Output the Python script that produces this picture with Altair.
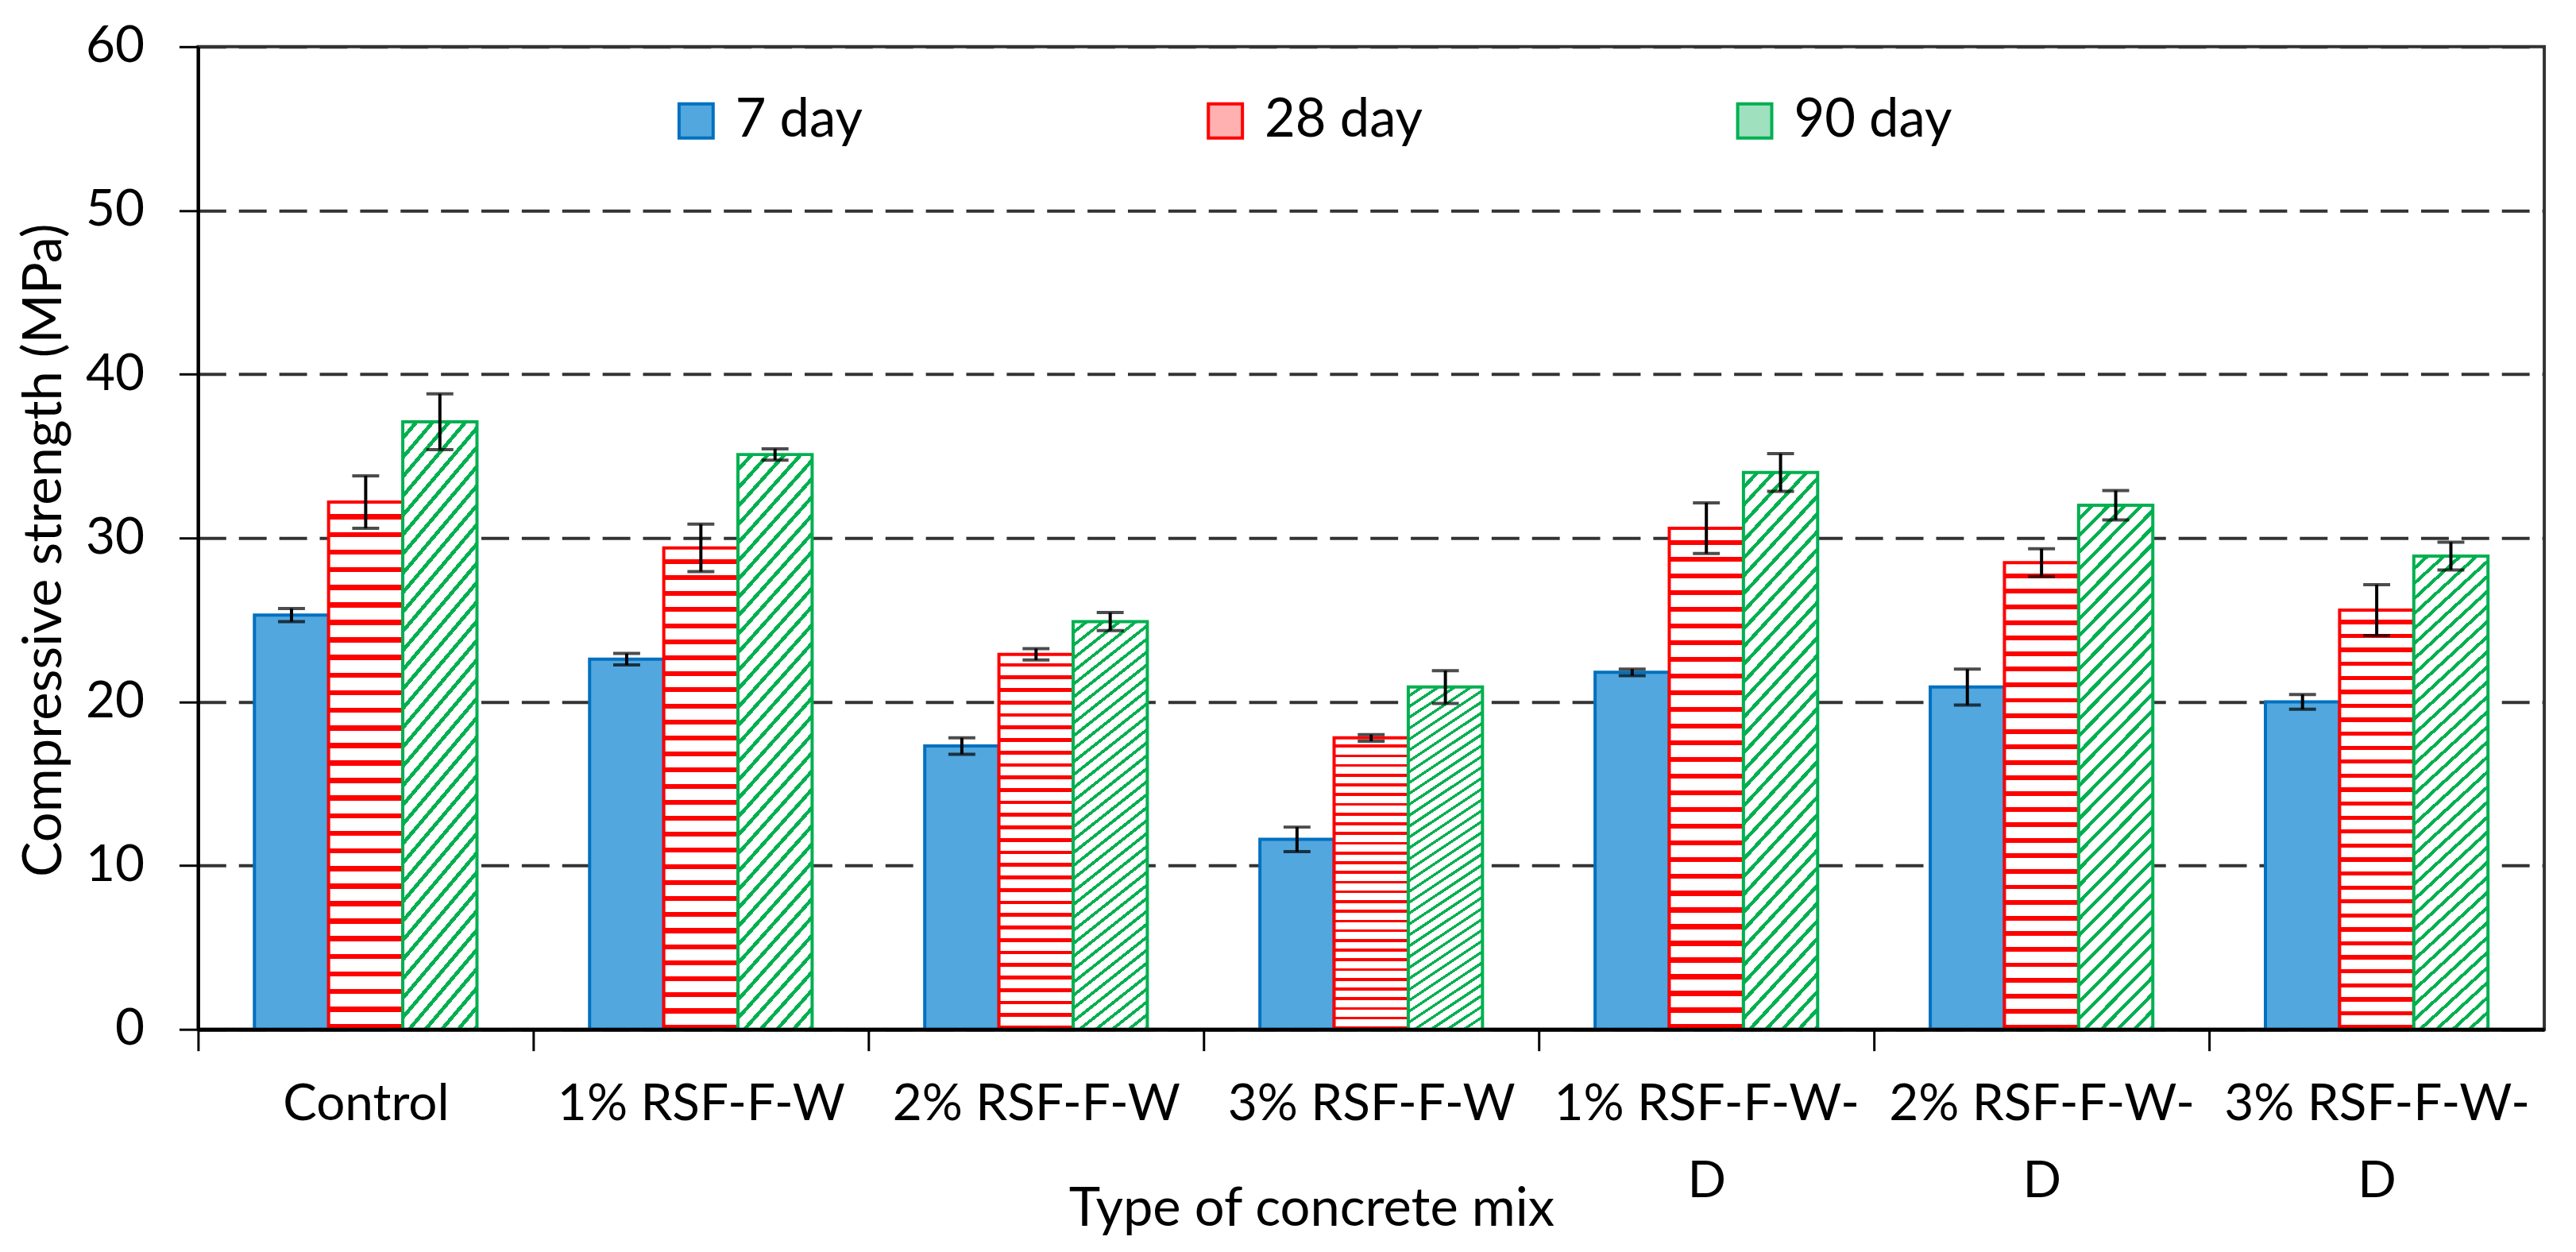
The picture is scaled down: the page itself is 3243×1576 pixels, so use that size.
import altair as alt
import pandas as pd

# ---------------- data ----------------
mixes = ["Control", "1% RSF-F-W", "2% RSF-F-W", "3% RSF-F-W",
         "1% RSF-F-W-D", "2% RSF-F-W-D", "3% RSF-F-W-D"]
ages = ["7 day", "28 day", "90 day"]

day7 = [25.3, 22.6, 17.3, 11.6, 21.8, 20.9, 20.0]
day7_sd = [0.4, 0.35, 0.5, 0.75, 0.2, 1.1, 0.45]
day28 = [32.2, 29.4, 22.9, 17.8, 30.6, 28.5, 25.6]
day28_sd = [1.6, 1.45, 0.35, 0.2, 1.55, 0.85, 1.55]
day90 = [37.1, 35.1, 24.9, 20.9, 34.0, 32.0, 28.9]
day90_sd = [1.7, 0.35, 0.55, 1.0, 1.15, 0.9, 0.85]

y_ticks = [0, 10, 20, 30, 40, 50, 60]

rows = []
for age, vals, sds in zip(ages, [day7, day28, day90], [day7_sd, day28_sd, day90_sd]):
    for m, v, s in zip(mixes, vals, sds):
        rows.append({"mix": m, "age": age, "value": v, "lo": v - s, "hi": v + s})
df = pd.DataFrame(rows)

# ---------------- styles ----------------
FONT = "Lato"
FS = 64
TFS = 67
stroke_colors = ["#0070C0", "#FF0000", "#00B050"]
legend_fills = ["#52A7DE", "#FFB0B0", "#9FE0BF"]

PLOT_W = 2961
PLOT_H = 1240
P_IN = 0.336
P_OUT = 0.168
STEP = PLOT_W / (len(mixes) - P_IN + 2 * P_OUT)
HALF_GAP = P_OUT * STEP


def stripes(color, n, frac, x2, y2):
    stops = []
    for i in range(n):
        a = i / n
        b = (i + 1) / n
        m = a + (1 - frac) / n
        stops += [
            {"offset": a, "color": "#FFFFFF"},
            {"offset": m, "color": "#FFFFFF"},
            {"offset": m, "color": color},
            {"offset": b, "color": color},
        ]
    return {"gradient": "linear", "x1": 0, "y1": 0, "x2": x2, "y2": y2, "stops": stops}


fills = [
    "#52A7DE",
    stripes("#FF0000", 30, 0.3, 0, 1),
    stripes("#00B050", 36, 0.3, 0.1615, 1.121),
]

x_enc = alt.X(
    "mix:N",
    sort=mixes,
    scale=alt.Scale(domain=mixes, paddingInner=P_IN, paddingOuter=P_OUT),
    title="Type of concrete mix",
    axis=alt.Axis(
        bandPosition=0,
        tickOffset=-HALF_GAP,
        labelOffset=HALF_GAP,
        labelAngle=0,
        labelFont=FONT,
        labelFontSize=FS,
        labelColor="black",
        labelPadding=36,
        labelLineHeight=97,
        labelLimit=0,
        labelOverlap=False,
        labelExpr="length(datum.label) > 10 ? [substring(datum.label, 0, 11), substring(datum.label, 11)] : datum.label",
        domainColor="black",
        domainWidth=5,
        tickColor="black",
        tickWidth=3,
        tickSize=27,
        grid=False,
        titleFont=FONT,
        titleFontSize=TFS,
        titleFontWeight="normal",
        titleColor="black",
        titleX=1405,
        titleY=247,
        titleAlign="center",
        titleBaseline="alphabetic",
        zindex=1,
    ),
)

y_axis = alt.Axis(
    values=y_ticks,
    labelFont=FONT,
    labelFontSize=FS,
    labelColor="black",
    labelPadding=44,
    domainColor="black",
    domainWidth=4,
    tickColor="black",
    tickWidth=3,
    tickSize=24,
    grid=True,
    gridColor="#333333",
    gridWidth=4,
    gridDash=[35, 16],
    titleFont=FONT,
    titleFontSize=TFS,
    titleFontWeight="normal",
    titleColor="black",
    titleX=-173,
    titleY=635,
    titleAlign="center",
    titleBaseline="alphabetic",
)
y_scale = alt.Scale(domain=[0, 60], nice=False)
Y_TITLE = "Compressive strength (MPa)"

xoff = alt.XOffset("age:N", sort=ages,
                   scale=alt.Scale(domain=ages, paddingInner=0, paddingOuter=0))

base = alt.Chart(df)

bar_layers = []
for age, fill, sc in zip(ages, fills, stroke_colors):
    bar_layers.append(
        base.transform_filter(alt.datum.age == age)
        .mark_bar(fill=fill, stroke=sc, strokeWidth=4)
        .encode(
            x=x_enc,
            xOffset=xoff,
            y=alt.Y("value:Q", scale=y_scale, axis=y_axis, title=Y_TITLE),
        )
    )

err_rule = base.mark_rule(color="black", strokeWidth=4).encode(
    x=x_enc,
    xOffset=xoff,
    y=alt.Y("lo:Q", scale=y_scale, axis=y_axis, title=Y_TITLE),
    y2="hi:Q",
)
cap_lo = base.mark_tick(color="black", size=34, thickness=4).encode(
    x=x_enc, xOffset=xoff,
    y=alt.Y("lo:Q", scale=y_scale, axis=y_axis, title=Y_TITLE),
)
cap_hi = base.mark_tick(color="black", size=34, thickness=4).encode(
    x=x_enc, xOffset=xoff,
    y=alt.Y("hi:Q", scale=y_scale, axis=y_axis, title=Y_TITLE),
)

leg = alt.Legend(
    title=None,
    orient="none",
    legendX=595,
    legendY=60,
    direction="horizontal",
    columns=3,
    gridAlign="all",
    columnPadding=385,
    symbolType="square",
    symbolSize=1850,
    symbolStrokeWidth=4,
    symbolOpacity=1,
    labelFont=FONT,
    labelFontSize=TFS,
    labelColor="black",
    labelOffset=16,
    labelLimit=0,
    padding=0,
)
legend_layer = base.mark_square(opacity=0, size=10, strokeWidth=4).encode(
    x=x_enc,
    xOffset=xoff,
    y=alt.Y("value:Q", scale=y_scale, axis=y_axis, title=Y_TITLE),
    fill=alt.Fill("age:N", sort=ages, scale=alt.Scale(domain=ages, range=legend_fills), legend=leg),
    stroke=alt.Stroke("age:N", sort=ages, scale=alt.Scale(domain=ages, range=stroke_colors), legend=leg),
)

chart = (
    alt.layer(*bar_layers, err_rule, cap_lo, cap_hi, legend_layer)
    .properties(
        width=PLOT_W,
        height=PLOT_H,
        autosize=alt.AutoSizeParams(type="none"),
        padding={"left": 242, "top": 49, "right": 32, "bottom": 262},
        background="white",
    )
    .configure_view(stroke="#333333", strokeWidth=4)
)

chart.save("out.html", embed_options={"renderer": "svg", "actions": False})
